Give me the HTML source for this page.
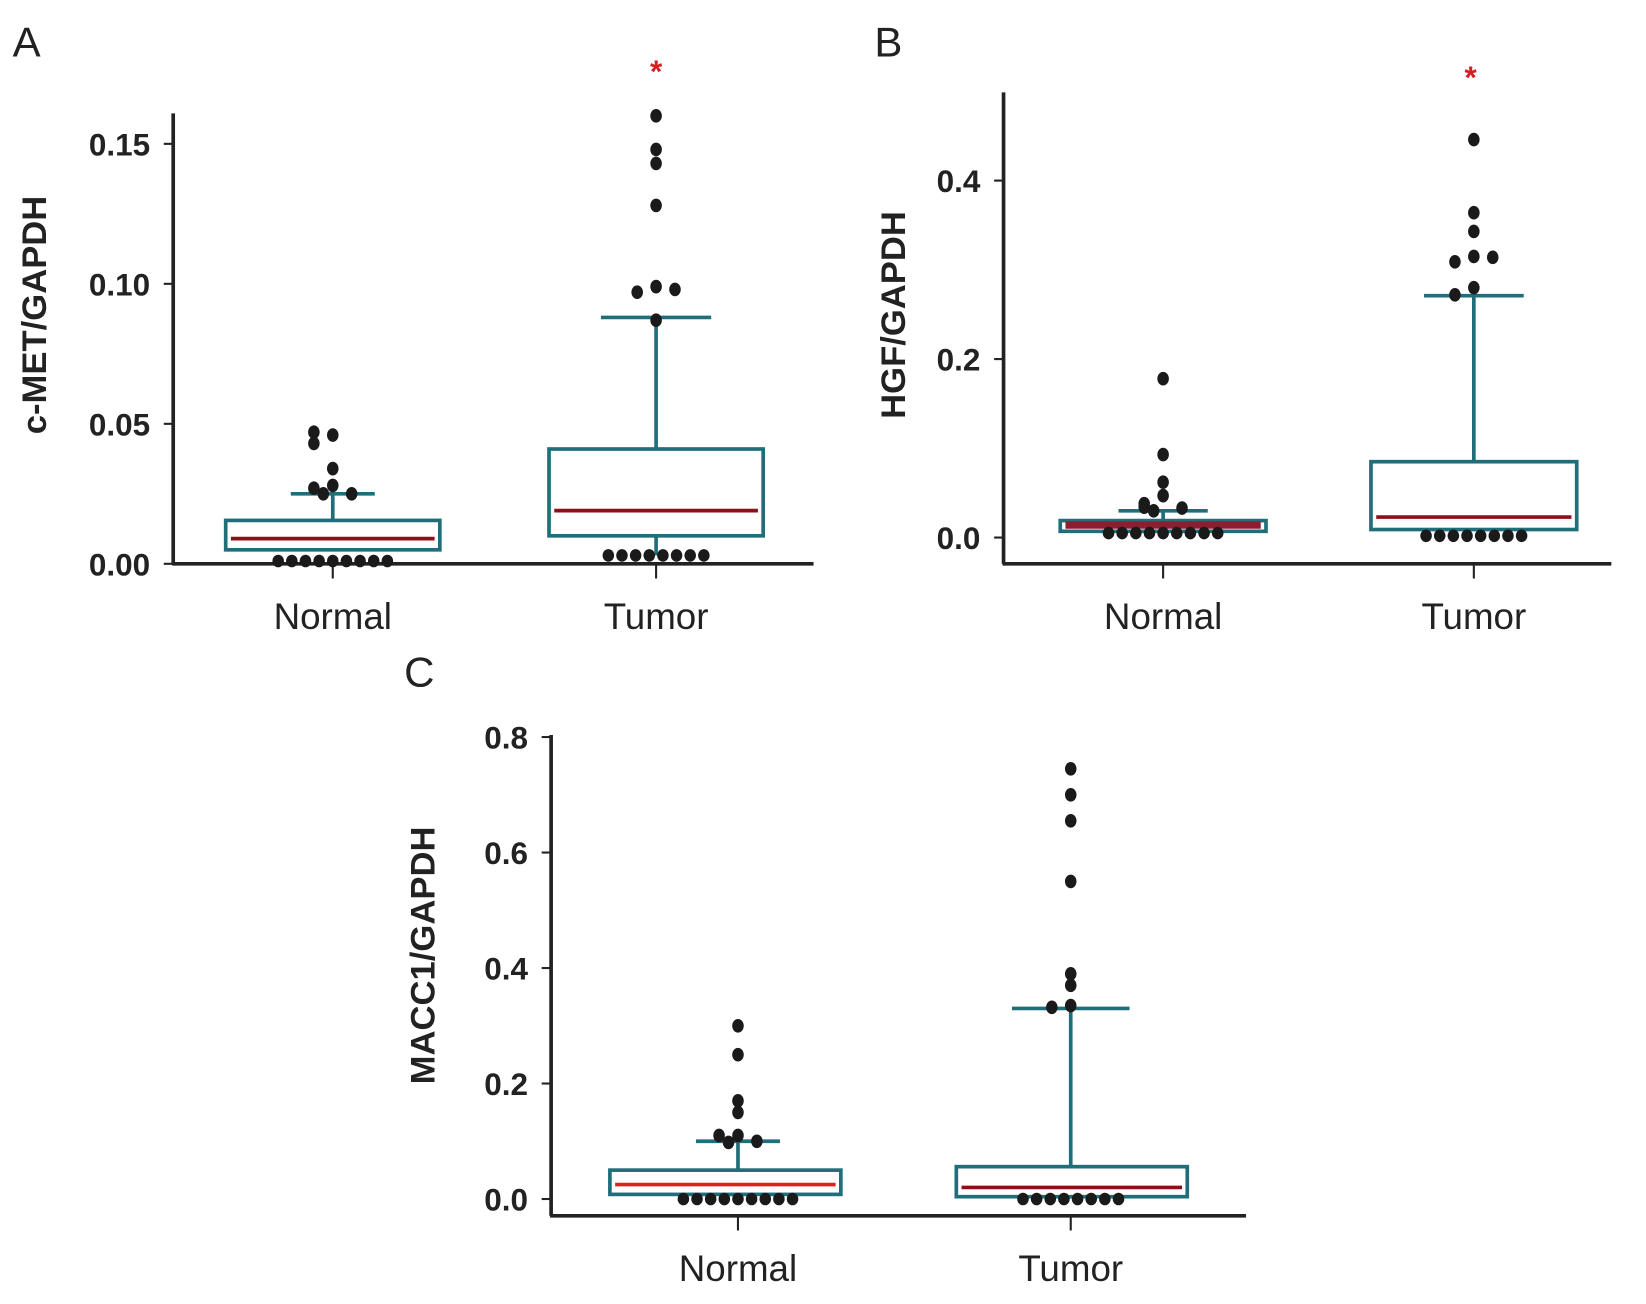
<!DOCTYPE html>
<html><head><meta charset="utf-8"><style>
html,body{margin:0;padding:0;background:#fff;}
svg{display:block;}
text{font-family:"Liberation Sans",sans-serif;}
</style></head><body>
<svg id="fig" width="1646" height="1304" viewBox="0 0 1568 1242" preserveAspectRatio="none"></svg>
<script>
// Panel A data (c-MET/GAPDH)
const catsA = ["Normal","Tumor"];
const ticksA = [0, 0.05, 0.10, 0.15];
const tickLabA = ["0.00","0.05","0.10","0.15"];
const q1A = [0.005, 0.010];
const medA = [0.009, 0.019];
const q3A = [0.0155, 0.041];
const whiA = [0.025, 0.088];
const wloA = [0.005, 0.003];
const outA_N = [0.046, 0.047, 0.043, 0.034, 0.028, 0.027, 0.025, 0.025];
const outA_T = [0.160, 0.148, 0.143, 0.128, 0.099, 0.097, 0.098, 0.087];
const lowA_N = [0.001,0.001,0.001,0.001,0.001,0.001,0.001,0.001,0.001];
const lowA_T = [0.003,0.003,0.003,0.003,0.003,0.003,0.003,0.003];
// Panel B data (HGF/GAPDH)
const catsB = ["Normal","Tumor"];
const ticksB = [0, 0.2, 0.4];
const tickLabB = ["0.0","0.2","0.4"];
const q1B = [0.007, 0.009];
const medB = [0.014, 0.023];
const q3B = [0.019, 0.085];
const whiB = [0.030, 0.271];
const wloB = [0.007, 0.009];
const outB_N = [0.178, 0.093, 0.062, 0.047, 0.038, 0.034, 0.033, 0.030];
const outB_T = [0.446, 0.364, 0.343, 0.315, 0.309, 0.314, 0.280, 0.272];
const lowB_N = [0.005,0.005,0.005,0.005,0.005,0.005,0.005,0.005,0.005];
const lowB_T = [0.002,0.002,0.002,0.002,0.002,0.002,0.002,0.002];
// Panel C data (MACC1/GAPDH)
const catsC = ["Normal","Tumor"];
const ticksC = [0, 0.2, 0.4, 0.6, 0.8];
const tickLabC = ["0.0","0.2","0.4","0.6","0.8"];
const q1C = [0.008, 0.004];
const medC = [0.025, 0.020];
const q3C = [0.050, 0.056];
const whiC = [0.100, 0.330];
const wloC = [0.008, 0.004];
const outC_N = [0.300, 0.250, 0.170, 0.150, 0.110, 0.110, 0.100, 0.098];
const outC_T = [0.745, 0.700, 0.655, 0.550, 0.390, 0.370, 0.335, 0.332];
const lowC_N = [0,0,0,0,0,0,0,0,0];
const lowC_T = [0,0,0,0,0,0,0,0];

const NS="http://www.w3.org/2000/svg";
const svg=document.getElementById('fig');
function mk(tag,attrs,parent,txt){const e=document.createElementNS(NS,tag);for(const k in attrs)e.setAttribute(k,attrs[k]);if(txt!==undefined)e.textContent=txt;(parent||svg).appendChild(e);return e;}

function panel(cfg){
  const g=mk('g',{});
  
  
  const y=v=>cfg.y0-(v-cfg.vmin)/(cfg.vmax-cfg.vmin)*(cfg.y0-cfg.y1);
  const x=i=>cfg.xc[i];
  const L=mk('text',{x:cfg.letter[0],y:cfg.letter[1],'font-size':40,fill:'#222'},g,cfg.letter[2]);
  
  
  const ya=mk('line',{x1:cfg.ax,y1:cfg.atop,x2:cfg.ax,y2:cfg.axY,stroke:'#222','stroke-width':3.5},g);
  
  
  const xa=mk('line',{x1:cfg.ax-1,y1:cfg.axY,x2:cfg.axEnd,y2:cfg.axY,stroke:'#222','stroke-width':3.5},g);
  
  
  cfg.ticks.forEach((t,i)=>{
    mk('line',{x1:cfg.ax-9,y1:y(t),x2:cfg.ax,y2:y(t),stroke:'#222','stroke-width':2},g);
    const tl=mk('text',{x:cfg.ax-22,y:y(t)+11,'font-size':30,'font-weight':'bold','text-anchor':'end',fill:'#222'},g,cfg.tickLab[i]);
    
    
  });
  const yl=mk('text',{x:0,y:0,'font-size':33,'font-weight':'bold','text-anchor':'middle',fill:'#222',transform:`translate(${cfg.ylab[0]},${cfg.ylab[1]}) rotate(-90)`},g,cfg.ylab[2]);
  
  
  cfg.cats.forEach((c,i)=>{
    mk('line',{x1:x(i),y1:cfg.axY,x2:x(i),y2:cfg.axY+14,stroke:'#222','stroke-width':2},g);
    const cl=mk('text',{x:x(i),y:cfg.axY+62,'font-size':35,'text-anchor':'middle',fill:'#222'},g,c);
    
    
    const hw=cfg.boxW/2, cw=cfg.capW[i]/2;
    const teal='#1f6e7a';
    const bx=cfg.boxC?cfg.boxC[i]:x(i);
    const w=mk('line',{x1:x(i),y1:y(cfg.q3[i]),x2:x(i),y2:y(cfg.whi[i]),stroke:teal,'stroke-width':3.5},g);
    
    
    mk('line',{x1:x(i),y1:y(cfg.q1[i]),x2:x(i),y2:y(cfg.wlo[i]),stroke:teal,'stroke-width':3.5},g);
    const cap=mk('line',{x1:x(i)-cw,y1:y(cfg.whi[i]),x2:x(i)+cw,y2:y(cfg.whi[i]),stroke:teal,'stroke-width':3.5},g);
    
    
    const b=mk('rect',{x:bx-hw,y:y(cfg.q3[i]),width:cfg.boxW,height:y(cfg.q1[i])-y(cfg.q3[i]),fill:'none',stroke:teal,'stroke-width':3.5},g);
    
    
    const m=mk('line',{x1:bx-hw+5,y1:y(cfg.med[i]),x2:bx+hw-5,y2:y(cfg.med[i]),stroke:cfg.medCol[i],'stroke-width':cfg.medW[i]},g);
    
    
    const outs=cfg.outs[i];
    outs.forEach((v,k)=>{
      let same=outs.filter((u,j)=>j<k && Math.abs(y(u)-y(v))<9).length;
      const dx=[0,-18,18,-9,9][same%5];
      const d=mk('ellipse',{cx:x(i)+dx,cy:y(v),rx:5.5,ry:6.5,fill:'#1a1a1a'},g);
      
      
    });
    const lows=cfg.lows[i];
    lows.forEach((v,k)=>{
      const dx=(k-(lows.length-1)/2)*13;
      const d=mk('ellipse',{cx:x(i)+dx,cy:y(v),rx:5.5,ry:6,fill:'#1a1a1a'},g);
      
      
    });
  });
  if(cfg.star){
    const s=mk('text',{x:cfg.star[0],y:cfg.star[1],'font-size':30,'font-weight':'bold','text-anchor':'middle',fill:'#d42020'},g,'*');
    
    
  }
}

panel({name:'panel-a',vmin:0,vmax:0.15,y0:537,y1:137,ax:165,atop:108,axY:537,axEnd:775,xc:[317,625],cats:catsA,
  ticks:ticksA,tickLab:tickLabA,q1:q1A,med:medA,q3:q3A,whi:whiA,wlo:wloA,outs:[outA_N,outA_T],lows:[lowA_N,lowA_T],
  boxW:204,capW:[80,105],medCol:['#8b1018','#8b1018'],medW:[3.5,3.5],letter:[12,54,'A'],ylab:[44,300,'c-MET/GAPDH'],star:[625,78]});
panel({name:'panel-b',vmin:0,vmax:0.4,y0:512,y1:172,ax:956,atop:88,axY:537,axEnd:1535,xc:[1108,1404],cats:catsB,
  ticks:ticksB,tickLab:tickLabB,q1:q1B,med:medB,q3:q3B,whi:whiB,wlo:wloB,outs:[outB_N,outB_T],lows:[lowB_N,lowB_T],
  boxW:196,capW:[85,95],medCol:['#8b1f30','#8b1018'],medW:[7,3.5],letter:[833,54,'B'],ylab:[862,300,'HGF/GAPDH'],star:[1401,84]});
panel({name:'panel-c',vmin:0,vmax:0.8,y0:1142,y1:702,ax:525,atop:700,axY:1158,axEnd:1187,xc:[703,1020],cats:catsC,boxC:[691,1021],
  ticks:ticksC,tickLab:tickLabC,q1:q1C,med:medC,q3:q3C,whi:whiC,wlo:wloC,outs:[outC_N,outC_T],lows:[lowC_N,lowC_T],
  boxW:220,capW:[80,112],medCol:['#e02020','#8b1018'],medW:[3.5,3.5],letter:[385,654,'C'],ylab:[414,910,'MACC1/GAPDH']});
</script>
</body></html>
